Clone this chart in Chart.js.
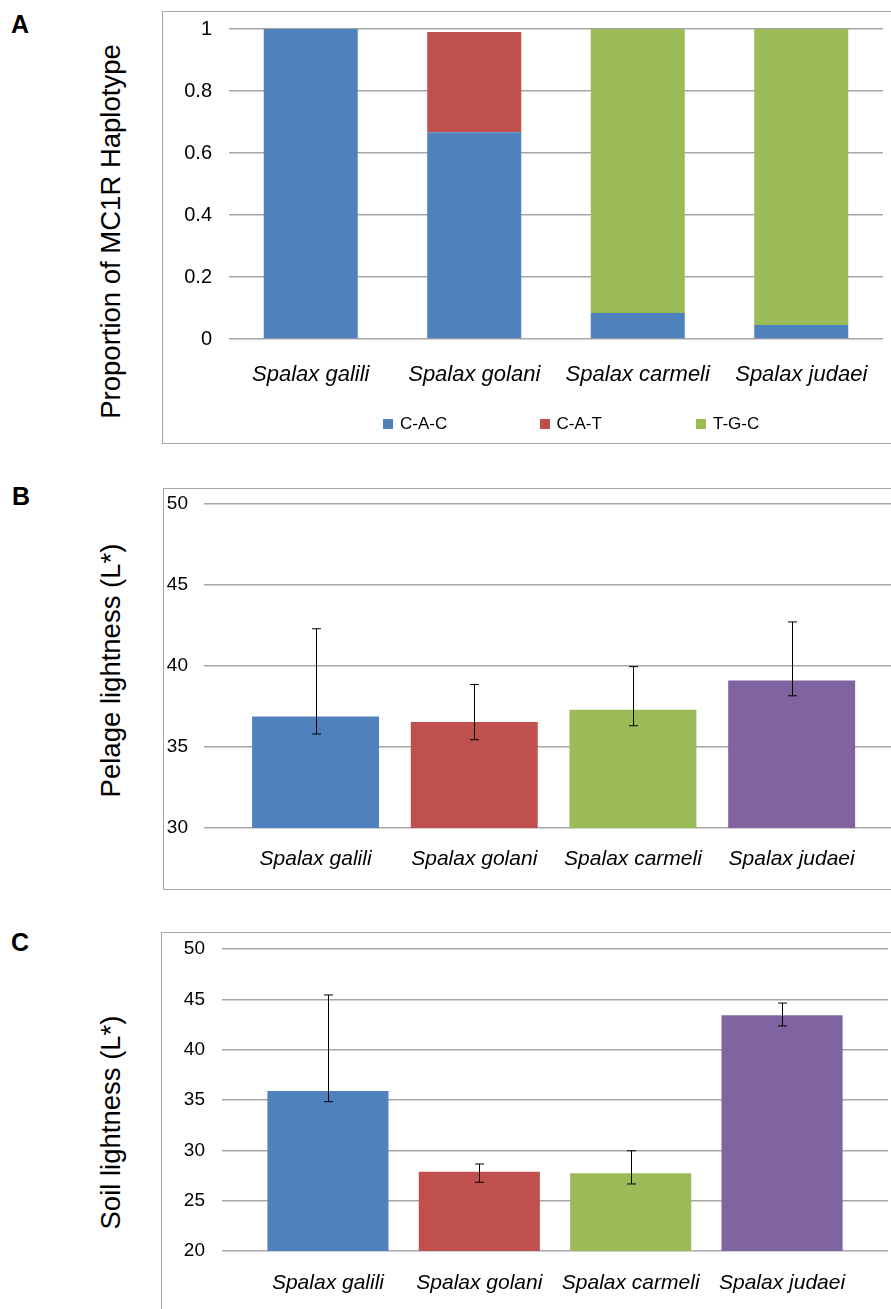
<!DOCTYPE html>
<html>
<head>
<meta charset="utf-8">
<script src="https://cdn.jsdelivr.net/npm/chart.js@4.4.1/dist/chart.umd.min.js"></script>
<style>
  body { margin: 0; width: 891px; height: 1309px; overflow: hidden; position: relative; background: #fff;
         font-family: "Liberation Sans", Arial, sans-serif; color: #000; }
  .box { position: absolute; box-sizing: border-box; border: 1px solid #a6a6a6; border-right: none; width: 760px; }
  canvas { position: absolute; }
  .letter { position: absolute; font-weight: bold; font-size: 25px; line-height: 25px; }
  .ytitle { position: absolute; width: 500px; height: 27px; left: -140px; font-size: 27.5px; line-height: 27px;
            text-align: center; white-space: nowrap; transform: rotate(-90deg); }
  #legendA { position: absolute; left: 383px; top: 415px; display: flex; font-size: 17px; line-height: 17px; }
  #legendA .item { width: 156.5px; display: flex; align-items: center; }
  #legendA .sw { width: 10px; height: 10px; margin-right: 7px; }
</style>
</head>
<body>
<div class="box" style="left:162px; top:11px; height:433px;"></div>
<div class="box" style="left:163px; top:488px; height:402px;"></div>
<div class="box" style="left:161px; top:932px; height:420px;"></div>

<div class="letter" style="left:11px; top:12px;">A</div>
<div class="letter" style="left:12px; top:484px;">B</div>
<div class="letter" style="left:11px; top:930px;">C</div>

<div class="ytitle" style="top:217.5px;">Proportion of MC1R Haplotype</div>
<div class="ytitle" style="top:656.5px;">Pelage lightness (L*)</div>
<div class="ytitle" style="top:1108.5px;">Soil lightness (L*)</div>

<canvas id="chartA" width="728" height="430" style="left:163px; top:12px;"></canvas>
<canvas id="chartB" width="727" height="399" style="left:164px; top:489px;"></canvas>
<canvas id="chartC" width="729" height="376" style="left:162px; top:933px;"></canvas>
<div id="legendA"></div>

<script>
const species = ["Spalax galili", "Spalax golani", "Spalax carmeli", "Spalax judaei"];
const speciesColors = ["#4F81BD", "#C0504D", "#9BBB59", "#8064A2"];

// panel A: haplotype proportions
const haplotypes = ["C-A-C", "C-A-T", "T-G-C"];
const hapCAC = [1, 0.667, 0.084, 0.045];
const hapCAT = [0, 0.323, 0, 0];
const hapTGC = [0, 0, 0.916, 0.955];

// panel B: pelage lightness, bar + error bar ends
const pelageMean = [36.88, 36.54, 37.30, 39.11];
const pelageLow = [35.80, 35.45, 36.31, 38.16];
const pelageHigh = [42.30, 38.86, 39.96, 42.72];

// panel C: soil lightness
const soilMean = [35.90, 27.88, 27.72, 43.43];
const soilLow = [34.83, 26.83, 26.66, 42.36];
const soilHigh = [45.43, 28.64, 29.96, 44.63];

const FONT = "'Liberation Sans', Arial, sans-serif";
const GRID = "#a6a6a6";

const errorBars = {
  id: "errorBars",
  afterDatasetsDraw(chart, args, opts) {
    if (!opts.low) return;
    const ctx = chart.ctx;
    const y = chart.scales.y;
    const bars = chart.getDatasetMeta(0).data;
    ctx.save();
    ctx.strokeStyle = "#000";
    ctx.lineWidth = 1;
    bars.forEach((bar, i) => {
      const x = Math.round(bar.x) + 0.5;
      const top = y.getPixelForValue(opts.high[i]);
      const bot = y.getPixelForValue(opts.low[i]);
      ctx.beginPath();
      ctx.moveTo(x, top); ctx.lineTo(x, bot);
      ctx.moveTo(x - 4.5, top); ctx.lineTo(x + 4.5, top);
      ctx.moveTo(x - 4.5, bot); ctx.lineTo(x + 4.5, bot);
      ctx.stroke();
    });
    ctx.restore();
  }
};
Chart.register(errorBars);

// gap between labels and grid comes from an invisible tick mark,
// so ticks.padding doesn't push the chart area down
function yScale(min, max, step, size, gap, width) {
  return {
    min: min, max: max,
    border: { display: false },
    grid: { color: GRID, lineWidth: 1.5, drawTicks: true, tickLength: gap, tickColor: "rgba(0,0,0,0)" },
    ticks: {
      stepSize: step, padding: 0, color: "#000", font: { family: FONT, size: size },
      callback: (v) => String(Number(v.toFixed(1))),
    },
    afterFit: (s) => { s.width = width; }
  };
}

// A: stacked proportions
const chartA = new Chart(document.getElementById("chartA"), {
  type: "bar",
  data: {
    labels: species,
    datasets: [
      { label: haplotypes[0], data: hapCAC, backgroundColor: speciesColors[0] },
      { label: haplotypes[1], data: hapCAT, backgroundColor: speciesColors[1] },
      { label: haplotypes[2], data: hapTGC, backgroundColor: speciesColors[2] },
    ],
  },
  options: {
    responsive: false,
    animation: false,
    devicePixelRatio: 1,
    layout: { padding: { top: 17, right: 8, left: 0, bottom: 0 } },
    datasets: { bar: { categoryPercentage: 0.575, barPercentage: 1 } },
    plugins: { legend: { display: false }, tooltip: { enabled: false } },
    scales: {
      x: {
        stacked: true,
        border: { display: false },
        grid: { display: false },
        ticks: { padding: 15, color: "#000", font: { family: FONT, size: 22, style: "italic" } },
        afterFit: (s) => { s.height = 103; }
      },
      y: Object.assign(yScale(0, 1, 0.2, 20, 17, 66), { stacked: true }),
    },
  },
});

// html legend from the chart's own datasets
const legendEl = document.getElementById("legendA");
chartA.data.datasets.forEach((ds) => {
  const item = document.createElement("div");
  item.className = "item";
  const sw = document.createElement("span");
  sw.className = "sw";
  sw.style.background = ds.backgroundColor;
  item.appendChild(sw);
  item.appendChild(document.createTextNode(ds.label));
  legendEl.appendChild(item);
});

function lightnessChart(id, mean, low, high, opt) {
  return new Chart(document.getElementById(id), {
    type: "bar",
    data: {
      datasets: [{
        data: mean.map((v, i) => ({ x: i + 1, y: v })),
        backgroundColor: speciesColors,
        categoryPercentage: 0.8,
        barPercentage: 1,
      }],
    },
    options: {
      responsive: false,
      animation: false,
      devicePixelRatio: 1,
      layout: { padding: { top: opt.top, right: opt.right, left: 0, bottom: 0 } },
      plugins: { legend: { display: false }, tooltip: { enabled: false }, errorBars: { low: low, high: high } },
      scales: {
        x: {
          type: "linear",
          offset: false,
          min: opt.xmin, max: opt.xmax,
          border: { display: false },
          grid: { display: false },
          afterBuildTicks: (s) => { s.ticks = species.map((_, i) => ({ value: i + 1 })); },
          ticks: {
            padding: opt.xpad, color: "#000", autoSkip: false, maxRotation: 0,
            font: { family: FONT, size: 21, style: "italic" },
            callback: (v) => species[v - 1] || "",
          },
          afterFit: (s) => { s.height = opt.xh; }
        },
        y: yScale(opt.ymin, 50, 5, 19, opt.ypad, opt.yw),
      },
    },
  });
}

lightnessChart("chartB", pelageMean, pelageLow, pelageHigh,
  { top: 15, right: 0, xmin: 0.297, xmax: 4.626, xpad: 11, xh: 60, ymin: 30, ypad: 16, yw: 40 });
lightnessChart("chartC", soilMean, soilLow, soilHigh,
  { top: 16, right: 3, xmin: 0.300, xmax: 4.700, xpad: 12, xh: 58, ymin: 20, ypad: 17, yw: 60 });
</script>
</body>
</html>
